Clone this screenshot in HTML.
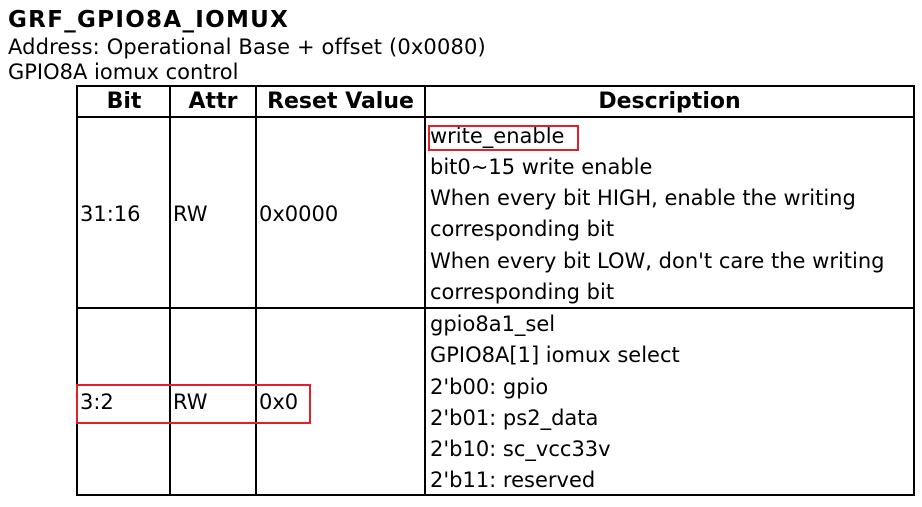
<!DOCTYPE html>
<html><head><meta charset="utf-8"><style>
body{margin:0;width:922px;height:507px;background:#fff;position:relative;overflow:hidden;font-family:"DejaVu Sans","Liberation Sans",sans-serif;color:#000}
.t{position:absolute;white-space:nowrap;font-size:21px;line-height:24px}
.l{position:absolute;background:#000}
.r{position:absolute;border:2px solid #e0202a}
.b{font-weight:bold}
</style></head><body>
<div class="t b" style="left:8px;top:8px;font-size:23px;letter-spacing:1.3px">GRF_GPIO8A_IOMUX</div>
<div class="t" style="left:8px;top:35px;letter-spacing:0.15px">Address: Operational Base + offset (0x0080)</div>
<div class="t" style="left:8px;top:60px">GPIO8A iomux control</div>
<div class="l" style="left:76px;top:85px;width:839px;height:2px"></div>
<div class="l" style="left:76px;top:116px;width:839px;height:2px"></div>
<div class="l" style="left:76px;top:307px;width:839px;height:2px"></div>
<div class="l" style="left:76px;top:494px;width:839px;height:2px"></div>
<div class="l" style="left:76px;top:85px;width:2px;height:411px"></div>
<div class="l" style="left:169px;top:85px;width:2px;height:411px"></div>
<div class="l" style="left:255px;top:85px;width:2px;height:411px"></div>
<div class="l" style="left:424px;top:85px;width:2px;height:411px"></div>
<div class="l" style="left:913px;top:85px;width:2px;height:411px"></div>
<div class="t b" style="left:78px;width:92px;text-align:center;top:90px;font-size:22px">Bit</div>
<div class="t b" style="left:171px;width:84px;text-align:center;top:90px;font-size:22px">Attr</div>
<div class="t b" style="left:257px;width:167px;text-align:center;top:90px;font-size:22px">Reset Value</div>
<div class="t b" style="left:426px;width:487px;text-align:center;top:90px;font-size:22px">Description</div>
<div class="t" style="left:80px;top:202px">31:16</div>
<div class="t" style="left:173px;top:202px">RW</div>
<div class="t" style="left:259px;top:202px">0x0000</div>
<div class="t" style="left:430px;top:124px">write_enable</div>
<div class="t" style="left:430px;top:155px">bit0~15 write enable</div>
<div class="t" style="left:430px;top:186px">When every bit HIGH, enable the writing</div>
<div class="t" style="left:430px;top:217px">corresponding bit</div>
<div class="t" style="left:430px;top:249px">When every bit LOW, don't care the writing</div>
<div class="t" style="left:430px;top:280px">corresponding bit</div>
<div class="t" style="left:80px;top:390px">3:2</div>
<div class="t" style="left:173px;top:390px">RW</div>
<div class="t" style="left:259px;top:390px">0x0</div>
<div class="t" style="left:430px;top:312px">gpio8a1_sel</div>
<div class="t" style="left:430px;top:343px">GPIO8A[1] iomux select</div>
<div class="t" style="left:430px;top:375px">2'b00: gpio</div>
<div class="t" style="left:430px;top:406px">2'b01: ps2_data</div>
<div class="t" style="left:430px;top:437px">2'b10: sc_vcc33v</div>
<div class="t" style="left:430px;top:468px">2'b11: reserved</div>
<div class="r" style="left:428px;top:125px;width:147px;height:22px"></div>
<div class="r" style="left:76px;top:384px;width:231px;height:36px"></div>
</body></html>
